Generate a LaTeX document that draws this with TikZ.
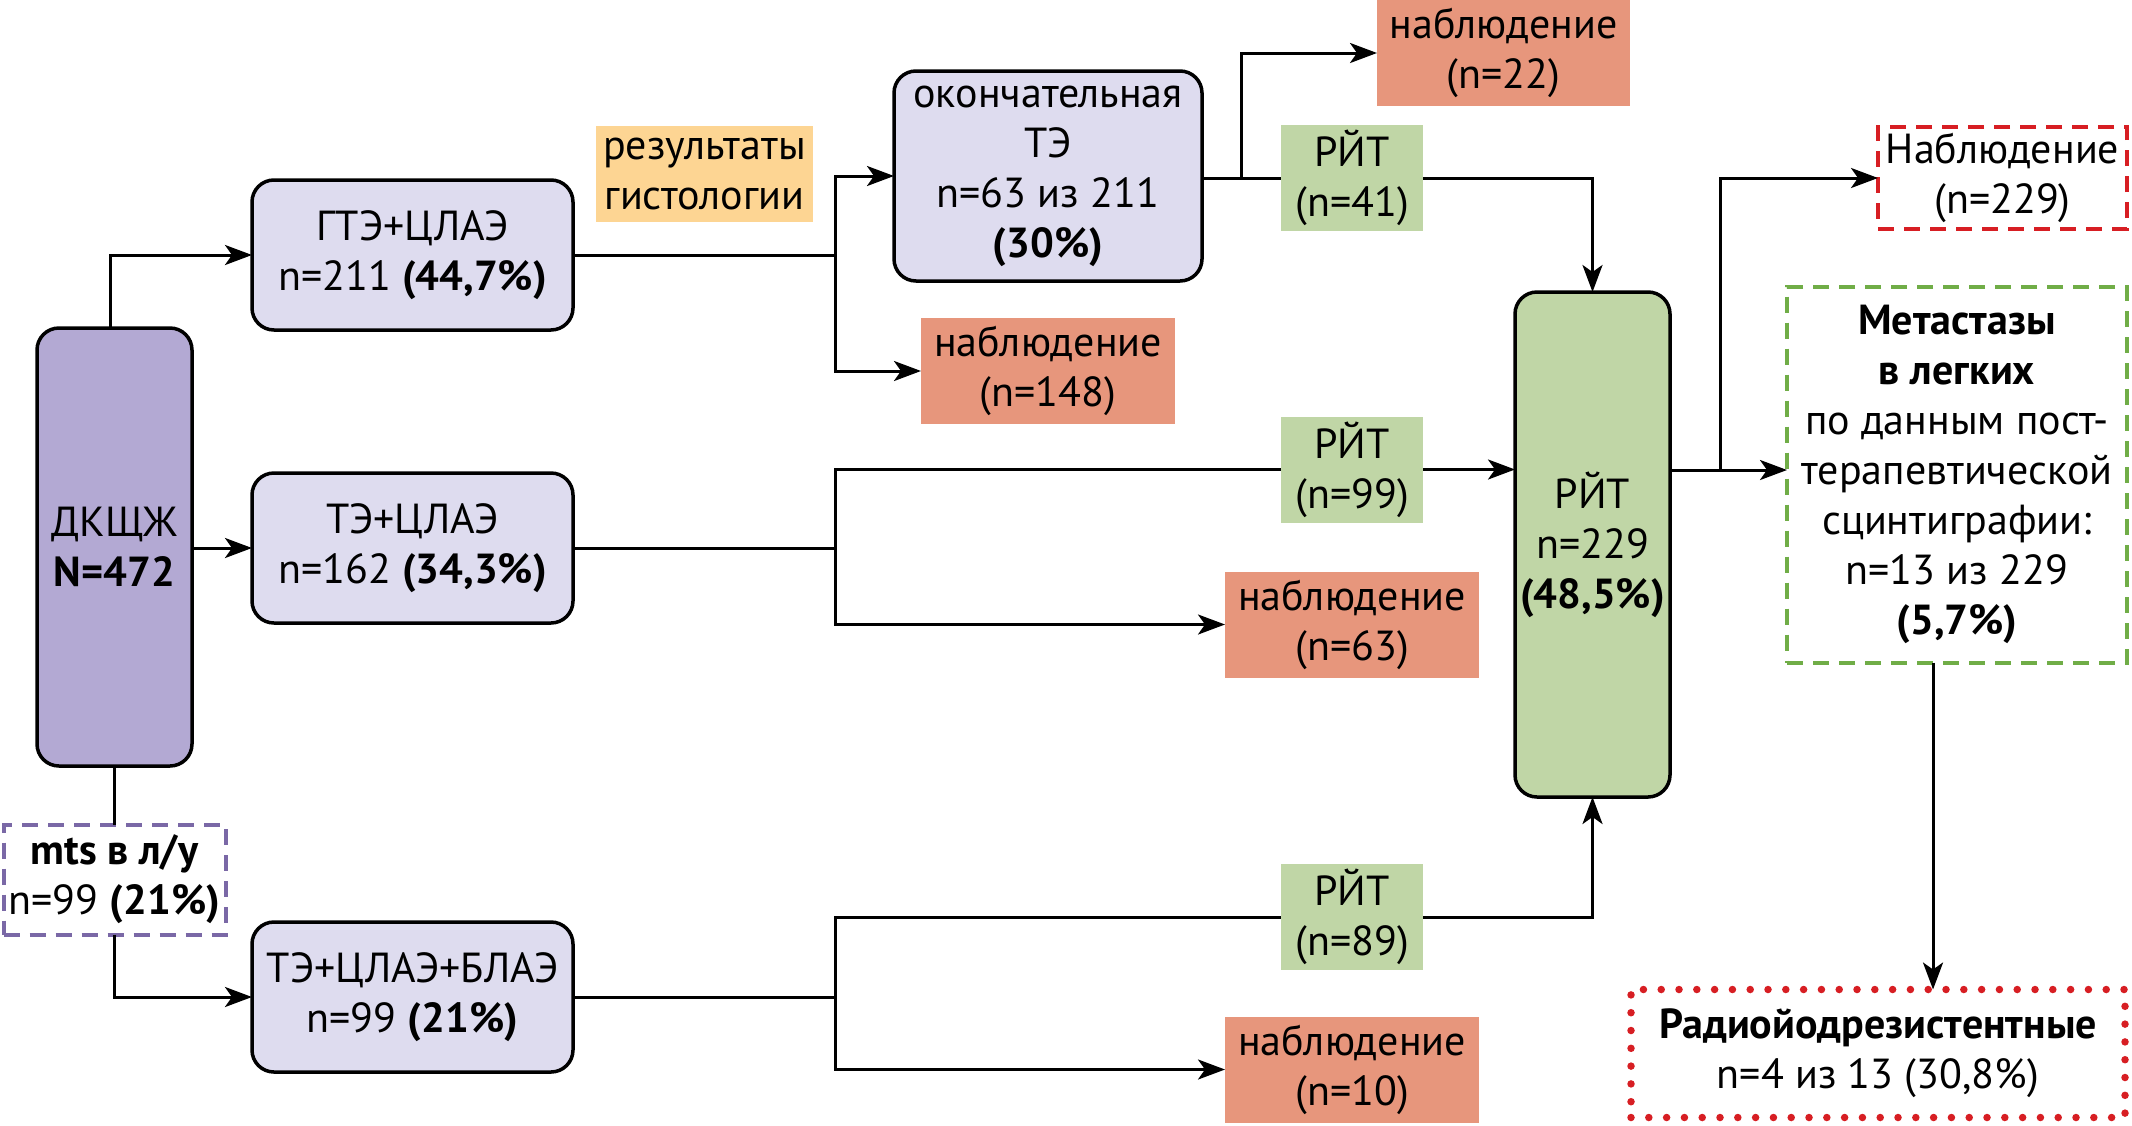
\documentclass[tikz,border=0pt]{standalone}
\usepackage{fontspec}
\setmainfont{PT Sans}
\usetikzlibrary{arrows.meta}
\definecolor{dkc}{RGB}{179,169,211}
\definecolor{lav}{RGB}{222,220,239}
\definecolor{resc}{RGB}{253,213,147}
\definecolor{obsc}{RGB}{231,150,124}
\definecolor{ritc}{RGB}{192,214,166}
\definecolor{gdash}{RGB}{112,173,71}
\definecolor{rdash}{RGB}{215,30,35}
\definecolor{pdash}{RGB}{122,104,166}
\begin{document}
\begin{tikzpicture}[x=1pt,y=-1pt,
  font=\fontsize{42}{50}\selectfont,
  base/.style={align=center, inner sep=0pt, outer sep=0pt},
  rbox/.style={base, draw, line width=3.5pt, rounded corners=22pt, fill=lav},
  flat/.style={base},
  obs/.style={flat, fill=obsc, minimum width=254pt, minimum height=106pt},
  rit/.style={flat, fill=ritc, minimum width=142pt, minimum height=106pt},
  conn/.style={line width=3pt},
  arr/.style={conn, -{Stealth[length=27pt, width=20pt, inset=7pt]}},
  dashbox/.style={base, line width=4pt, dash pattern=on 16pt off 10pt, fill=white}
]
\useasboundingbox (0,0) rectangle (2132,1125);

% nodes
\node[rbox, fill=dkc, minimum width=155pt, minimum height=438pt] (dk) at (114.5,547) {ДКЩЖ\\\textbf{N=472}};
\node[rbox, minimum width=321pt, minimum height=150pt] (g1) at (412.5,255) {ГТЭ+ЦЛАЭ\\n=211 \textbf{(44,7\%)}};
\node[rbox, minimum width=321pt, minimum height=150pt] (g2) at (412.5,548) {ТЭ+ЦЛАЭ\\n=162 \textbf{(34,3\%)}};
\node[rbox, minimum width=321pt, minimum height=150pt] (g3) at (412.5,997) {ТЭ+ЦЛАЭ+БЛАЭ\\n=99 \textbf{(21\%)}};
\node[dashbox, draw=pdash, minimum width=222pt, minimum height=110pt] (mts) at (114.5,879.5) {\textbf{mts в л/у}\\n=99 \textbf{(21\%)}};
\node[flat, fill=resc, minimum width=217pt, minimum height=96pt] (res) at (704.5,174) {результаты\\гистологии};
\node[rbox, minimum width=308pt, minimum height=210pt] (fin) at (1048,176) {окончательная\\ТЭ\\n=63 из 211\\\textbf{(30\%)}};
\node[obs] (o148) at (1048,371) {наблюдение\\(n=148)};
\node[obs, minimum width=253pt] (o22) at (1503.5,53) {наблюдение\\(n=22)};
\node[rit] (r41) at (1352,178) {РЙТ\\(n=41)};
\node[rit] (r99) at (1352,469.5) {РЙТ\\(n=99)};
\node[obs] (o63) at (1352,624.5) {наблюдение\\(n=63)};
\node[rit] (r89) at (1352,917) {РЙТ\\(n=89)};
\node[obs] (o10) at (1352,1069.5) {наблюдение\\(n=10)};
\node[rbox, fill=ritc, minimum width=155pt, minimum height=505pt] (big) at (1592.5,544.5) {РЙТ\\n=229\\\textbf{(48,5\%)}};
\node[dashbox, draw=rdash, minimum width=249pt, minimum height=102pt] (o229) at (2002.5,178) {Наблюдение\\(n=229)};
\node[dashbox, draw=gdash, minimum width=340pt, minimum height=376pt] (met) at (1957,474.5) {\textbf{Метастазы}\\\textbf{в легких}\\по данным пост-\\терапевтической\\сцинтиграфии:\\n=13 из 229\\\textbf{(5,7\%)}};
\node[base, draw=rdash, fill=white, line width=7.5pt, dash pattern=on 0pt off 17.8pt, line cap=round, minimum width=494pt, minimum height=128pt] (rad) at (1878,1053.5) {\textbf{Радиойодрезистентные}\\n=4 из 13 (30,8\%)};

% split coordinates
\coordinate (s1) at (835,255);
\coordinate (s2) at (1241,178);
\coordinate (s3) at (835,548);
\coordinate (s4) at (835,997);
\coordinate (s5) at (1720,470);
\coordinate (mx) at (1933,0);
\coordinate (dx) at (110,0);

% connectors
\draw[arr] (dk.north -| dx) |- (g1.west);
\draw[arr] (dk.east |- g2.west) -- (g2.west);
\draw[conn] (dk.south) -- (mts.north);
\draw[arr] (mts.south) |- (g3.west);

\draw[conn] (g1.east) -- (s1);
\draw[arr] (s1) |- (fin.west);
\draw[arr] (s1) |- (o148.west);

\draw[conn] (fin.east |- r41.west) -- (r41.west);
\draw[arr] (s2) |- (o22.west);
\draw[arr] (r41.east) -| (big.north);

\draw[conn] (g2.east) -- (s3);
\draw[conn] (s3) |- (r99.west);
\draw[arr] (s3) |- (o63.west);
\draw[arr] (r99.east) -- (big.west |- r99.east);

\draw[conn] (g3.east) -- (s4);
\draw[conn] (s4) |- (r89.west);
\draw[arr] (s4) |- (o10.west);
\draw[arr] (r89.east) -| (big.south);

\draw[conn] (big.east |- s5) -- (s5);
\draw[arr] (s5) |- (o229.west);
\draw[arr] (s5) -- (met.west |- s5);
\draw[arr] (met.south -| mx) -- (rad.north -| mx);
\end{tikzpicture}
\end{document}
